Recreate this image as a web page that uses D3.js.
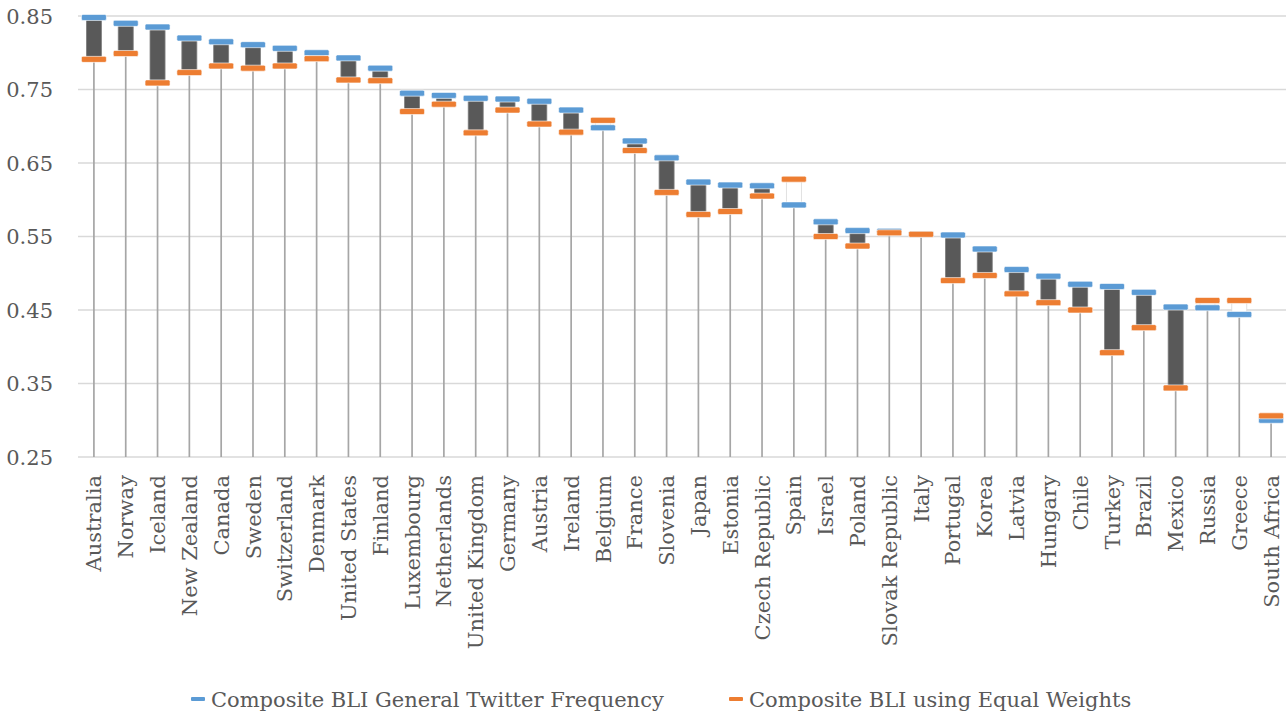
<!DOCTYPE html>
<html>
<head>
<meta charset="utf-8">
<script src="https://cdn.jsdelivr.net/npm/d3@7"></script>
<style>
  body { margin: 0; background: #fff; }
  text { font-family: "DejaVu Serif", serif; fill: #595959; }
</style>
</head>
<body>
<div class="bli-chart"></div>
<script>
'use strict';

const countries = ['Australia', 'Norway', 'Iceland', 'New Zealand', 'Canada', 'Sweden', 'Switzerland',
    'Denmark', 'United States', 'Finland', 'Luxembourg', 'Netherlands', 'United Kingdom', 'Germany',
    'Austria', 'Ireland', 'Belgium', 'France', 'Slovenia', 'Japan', 'Estonia', 'Czech Republic', 'Spain',
    'Israel', 'Poland', 'Slovak Republic', 'Italy', 'Portugal', 'Korea', 'Latvia', 'Hungary', 'Chile',
    'Turkey', 'Brazil', 'Mexico', 'Russia', 'Greece', 'South Africa'];

const twitterFreq = [0.848, 0.840, 0.835, 0.820, 0.815, 0.811, 0.806, 0.800, 0.793, 0.779, 0.745,
    0.742, 0.738, 0.737, 0.734, 0.722, 0.698, 0.680, 0.657, 0.624, 0.620, 0.619, 0.593, 0.570, 0.558,
    0.557, 0.553, 0.552, 0.533, 0.505, 0.496, 0.485, 0.482, 0.474, 0.454, 0.453, 0.444, 0.300];

const equalWeights = [0.791, 0.799, 0.759, 0.773, 0.782, 0.779, 0.782, 0.792, 0.763, 0.762, 0.720,
    0.730, 0.691, 0.722, 0.703, 0.692, 0.708, 0.667, 0.610, 0.580, 0.584, 0.605, 0.628, 0.550, 0.537,
    0.555, 0.553, 0.490, 0.497, 0.472, 0.460, 0.450, 0.392, 0.426, 0.344, 0.463, 0.463, 0.306];

const yTicks = [0.25, 0.35, 0.45, 0.55, 0.65, 0.75, 0.85];

const seriesNames = ['Composite BLI General Twitter Frequency', 'Composite BLI using Equal Weights'];
const seriesColors = ['#5B9BD5', '#ED7D31'];

const width = 1286;
const height = 719;
const margin = {top: 16, right: 0, bottom: 262, left: 78};
const fontSize = '21px';

const rows = countries.map((name, i) => ({
    name: name,
    twitter: twitterFreq[i],
    equal: equalWeights[i]
}));

const svg = d3.select('.bli-chart')
    .append('svg')
    .attr('width', width)
    .attr('height', height);

const x = d3.scaleBand()
    .domain(countries)
    .range([margin.left, width - margin.right + 1]);

const y = d3.scaleLinear()
    .domain([0.25, 0.85])
    .range([height - margin.bottom, margin.top]);

// gridlines
svg.append('g')
    .selectAll('line')
    .data(yTicks)
    .enter().append('line')
    .attr('x1', margin.left)
    .attr('x2', width)
    .attr('y1', (d) => y(d))
    .attr('y2', (d) => y(d))
    .attr('stroke', '#D9D9D9')
    .attr('stroke-width', 1.4);

// y labels
svg.append('g')
    .selectAll('text')
    .data(yTicks)
    .enter().append('text')
    .attr('x', 53)
    .attr('y', (d) => y(d))
    .attr('dy', '0.36em')
    .attr('text-anchor', 'end')
    .style('font-size', fontSize)
    .text((d) => d.toFixed(2));

// drop lines down to the axis
svg.append('g')
    .selectAll('line')
    .data(rows)
    .enter().append('line')
    .attr('x1', (d) => x(d.name) + x.bandwidth() / 2)
    .attr('x2', (d) => x(d.name) + x.bandwidth() / 2)
    .attr('y1', (d) => y(Math.max(d.twitter, d.equal)))
    .attr('y2', y(0.25))
    .attr('stroke', '#A6A6A6')
    .attr('stroke-width', 1.7);

// up / down bars
const barW = 15;
svg.append('g')
    .selectAll('rect')
    .data(rows)
    .enter().append('rect')
    .attr('x', (d) => x(d.name) + x.bandwidth() / 2 - barW / 2)
    .attr('y', (d) => y(Math.max(d.twitter, d.equal)))
    .attr('width', barW)
    .attr('height', (d) => Math.abs(y(d.twitter) - y(d.equal)))
    .attr('fill', (d) => d.twitter >= d.equal ? '#595959' : '#FFFFFF')
    .attr('stroke', (d) => d.twitter >= d.equal ? '#7F7F7F' : '#D9D9D9')
    .attr('stroke-width', 0.8);

// markers (equal weights drawn last, on top)
const markW = 25;
const markH = 6;
[['twitter', 0], ['equal', 1]].forEach(([key, k]) => {
    svg.append('g')
        .selectAll('rect')
        .data(rows)
        .enter().append('rect')
        .attr('x', (d) => x(d.name) + x.bandwidth() / 2 - markW / 2)
        .attr('y', (d) => y(d[key]) - markH / 2)
        .attr('width', markW)
        .attr('height', markH)
        .attr('rx', 1.5)
        .attr('fill', seriesColors[k])
        .attr('stroke', 'rgba(255,255,255,0.6)')
        .attr('stroke-width', 1);
});

// category labels
svg.append('g')
    .selectAll('text')
    .data(countries)
    .enter().append('text')
    .attr('transform', (d) => 'translate(' + (x(d) + x.bandwidth() / 2) + ',475) rotate(-90)')
    .attr('dy', '0.36em')
    .attr('text-anchor', 'end')
    .style('font-size', fontSize)
    .text((d) => d);

// legend
const legendX = [191, 729];
const legend = svg.append('g')
    .selectAll('g')
    .data(seriesNames)
    .enter().append('g')
    .attr('transform', (d, i) => 'translate(' + legendX[i] + ',699)');

legend.append('rect')
    .attr('x', 0)
    .attr('y', -2)
    .attr('width', 14)
    .attr('height', 4)
    .attr('rx', 1)
    .attr('fill', (d, i) => seriesColors[i]);

legend.append('text')
    .attr('x', 20)
    .attr('dy', '0.36em')
    .style('font-size', fontSize)
    .text((d) => d);
</script>
</body>
</html>
